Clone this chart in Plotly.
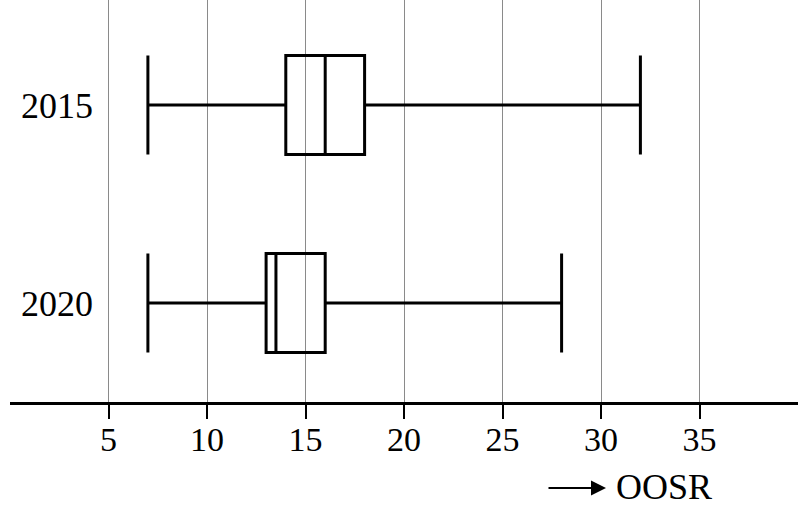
import plotly.graph_objects as go

years = ["2015", "2020"]
lower = [7, 7]
q1 = [14, 13]
median = [16, 13.5]
q3 = [18, 16]
upper = [32, 28]
x_ticks = [5, 10, 15, 20, 25, 30, 35]

FONT = "Liberation Serif"

fig = go.Figure()
for i, yr in enumerate(years):
    fig.add_trace(go.Box(
        y=[yr], q1=[q1[i]], median=[median[i]], q3=[q3[i]],
        lowerfence=[lower[i]], upperfence=[upper[i]],
        orientation="h", width=0.5, whiskerwidth=1,
        line=dict(color="black", width=3), fillcolor="rgba(0,0,0,0)",
        showlegend=False, hoverinfo="skip"))

fig.update_xaxes(range=[0, 40], tickvals=x_ticks, showgrid=True, gridcolor="#8a8a8a", gridwidth=1,
                 showline=True, linecolor="black", linewidth=2.5, zeroline=False,
                 ticks="outside", ticklen=14, tickwidth=2, tickcolor="black", automargin=False,
                 ticklabelstandoff=-9,
                 tickfont=dict(family=FONT, size=34, color="black"))
fig.update_yaxes(type="category", categoryorder="array", categoryarray=years,
                 range=[1.5, -0.53], showgrid=False, zeroline=False, showline=False,
                 ticklabelposition="inside", ticks="", automargin=False, ticklabelstandoff=8,
                 tickfont=dict(family=FONT, size=36, color="black"))

# axis caption with arrow
fig.add_annotation(xref="paper", yref="paper", x=(606 - 10) / 788, y=(402 - 488) / 402,
                   ax=-59, ay=0, text="", showarrow=True, arrowhead=2, arrowsize=1.5,
                   arrowwidth=2, arrowcolor="black")
fig.add_annotation(xref="paper", yref="paper", x=(614 - 10) / 788, y=(402 - 487) / 402,
                   text="OOSR", showarrow=False, xanchor="left", yanchor="middle",
                   font=dict(family=FONT, size=36, color="black"))

fig.update_layout(width=806, height=509, margin=dict(l=10, r=8, t=0, b=107),
                  plot_bgcolor="white", paper_bgcolor="white")

# page body has a default 8px margin; drop it so the figure sits at the window corner
fig.write_html("out.html", config={"displayModeBar": False},
               post_script="document.body.style.margin='0';")
